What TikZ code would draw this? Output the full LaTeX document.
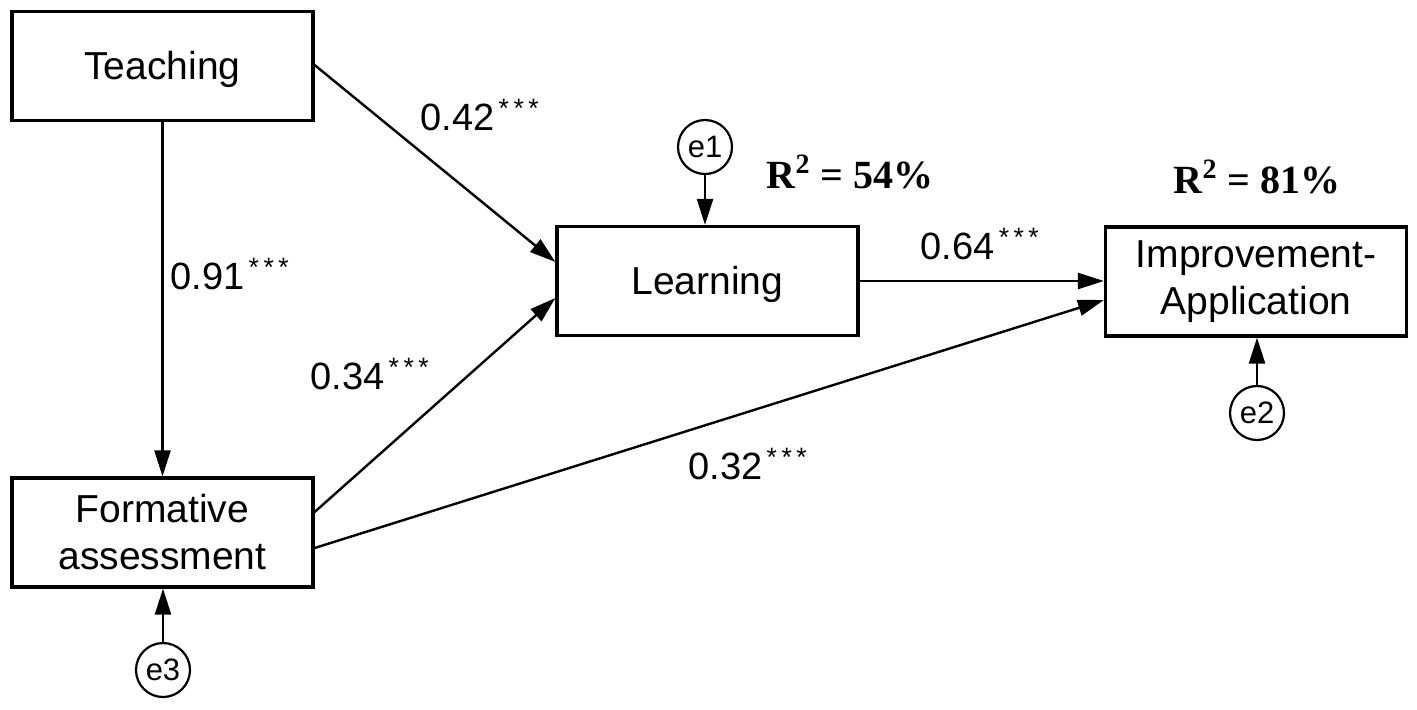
\documentclass[tikz,border=0pt]{standalone}
\usepackage{fontspec}
\setmainfont{Liberation Sans}
\newfontfamily\serifbold{Liberation Serif}
\usetikzlibrary{arrows.meta,calc}
\begin{document}
\begin{tikzpicture}[x=0.5pt,y=-0.5pt,
  box/.style={draw,line width=1.6pt,fill=white,inner sep=0pt,minimum width=150.5pt,minimum height=54.5pt,align=center,font=\fontsize{19.5}{23.5}\selectfont},
  err/.style={draw,circle,line width=1.1pt,minimum size=27pt,inner sep=0pt,font=\fontsize{15.5}{17}\selectfont},
  coef/.style={font=\fontsize{19}{22}\selectfont,inner sep=0pt},
  rsq/.style={font=\fontsize{20}{24}\serifbold\bfseries,inner sep=0pt},
  arr/.style={line width=1.2pt,-{Triangle[length=13pt,width=8pt]}}]
\useasboundingbox (0,0) rectangle (1417,709);
\node[box,text height=14pt,text depth=1pt] (teach) at (162.5,66) {Teaching};
\node[box] (form) at (162.5,532.5) {Formative\\assessment};
\node[box,text height=14pt,text depth=1pt] (learn) at (707.5,281) {Learning};
\node[box] (imp) at (1256,281.5) {Improvement-\\Application};
\node[err] (e1) at (705,147) {e1};
\node[err] (e2) at (1257,413) {e2};
\node[err] (e3) at (163,670) {e3};
\draw[arr] ([yshift=0.5pt]teach.east) -- ([yshift=9.5pt]learn.west);
\draw[arr] (teach.south) -- (form.north);
\draw[arr] ([yshift=10.25pt]form.east) -- ([yshift=-8.5pt]learn.west);
\draw[arr] ([yshift=-7.75pt]form.east) -- ([yshift=-9.25pt]imp.west);
\draw[arr] (learn.east) -- (learn.east -| imp.west);
\draw[arr] (e1) -- (e1 |- learn.north);
\draw[arr] (e2) -- (e2 |- imp.south);
\draw[arr] (e3) -- (e3 |- form.south);
\node[coef] (c1) at (480,115) {0.42\textsuperscript{\,*\,*\,*}};
\node[coef] (c2) at (230,274) {0.91\textsuperscript{\,*\,*\,*}};
\node[coef] (c3) at (370,374) {0.34\textsuperscript{\,*\,*\,*}};
\node[coef] (c4) at (980,244) {0.64\textsuperscript{\,*\,*\,*}};
\node[coef] (c5) at (748,464) {0.32\textsuperscript{\,*\,*\,*}};
\node[rsq] (r1) at (850,172) {R\textsuperscript{2} = 54\%};
\node[rsq] (r2) at (1257,177) {R\textsuperscript{2} = 81\%};
\end{tikzpicture}
\end{document}
